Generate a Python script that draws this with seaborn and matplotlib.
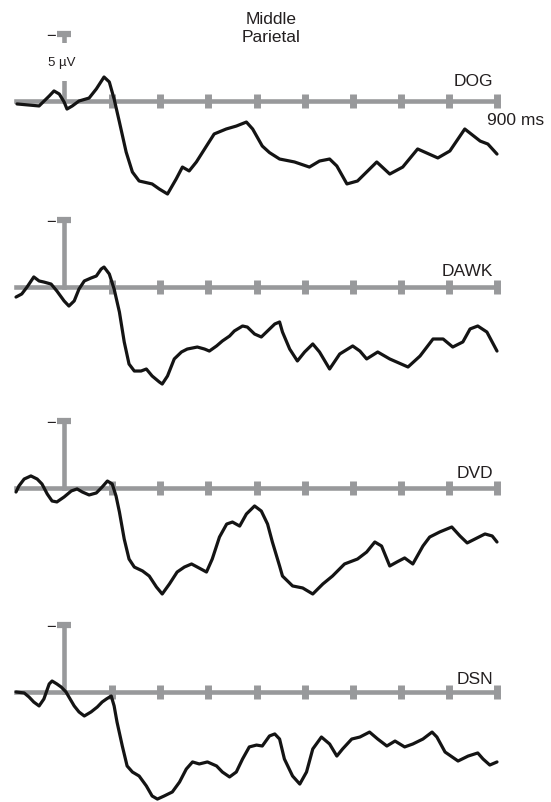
import matplotlib
matplotlib.use("Agg")
import matplotlib.pyplot as plt
import seaborn as sns

# ---------------- data (ms, µV; negative plotted up) ----------------
conditions = ["DOG", "DAWK", "DVD", "DSN"]

dog_ms = [-98, -52, -31, -21, -10, 0, 6, 17, 31, 52, 67, 83, 94, 104, 115, 129, 142, 156,
          183, 198, 215, 233, 246, 260, 275, 296, 312, 337, 358, 379, 392, 412, 427, 448,
          479, 510, 531, 552, 567, 588, 610, 650, 677, 704, 735, 777, 802, 833, 865, 881, 900]
dog_uv = [0.22, 0.37, -0.37, -0.75, -0.52, 0.07, 0.60, 0.37, 0.0, -0.22, -0.90, -1.79, -1.42,
          -0.15, 1.57, 3.81, 5.30, 5.97, 6.19, 6.57, 6.94, 5.82, 4.93, 5.22, 4.55, 3.36, 2.46,
          2.09, 1.87, 1.57, 2.09, 3.36, 3.85, 4.33, 4.55, 4.93, 4.48, 4.33, 4.85, 6.19, 5.97,
          4.55, 5.45, 4.93, 3.58, 4.25, 3.73, 2.09, 2.99, 3.21, 3.96]

dawk_ms = [-100, -88, -77, -63, -52, -42, -27, -15, 0, 10, 21, 31, 42, 56, 67, 77, 83, 94,
           104, 115, 125, 135, 146, 160, 171, 183, 198, 204, 215, 229, 244, 256, 277, 292,
           302, 317, 329, 344, 354, 371, 381, 396, 410, 423, 438, 448, 454, 469, 485, 500,
           517, 531, 552, 573, 600, 615, 629, 652, 677, 715, 740, 767, 788, 808, 829, 844,
           860, 879, 900]
dawk_uv = [0.75, 0.52, 0.0, -0.75, -0.45, -0.37, -0.22, 0.30, 1.04, 1.42, 1.04, 0.15, -0.45,
           -0.67, -0.82, -1.34, -1.49, -0.97, 0.15, 1.87, 4.10, 5.75, 6.27, 6.27, 6.12, 6.64,
           7.09, 7.24, 6.64, 5.37, 4.85, 4.63, 4.48, 4.63, 4.78, 4.40, 4.03, 3.66, 3.28, 2.91,
           2.99, 3.51, 3.73, 3.28, 2.76, 2.61, 3.36, 4.63, 5.52, 4.85, 4.25, 4.85, 6.12, 5.00,
           4.40, 4.78, 5.37, 4.85, 5.37, 5.97, 5.15, 3.88, 3.88, 4.48, 4.10, 3.13, 2.91, 3.36,
           4.78]

dvd_ms = [-100, -94, -83, -69, -56, -46, -35, -25, -15, 0, 15, 27, 38, 52, 67, 79, 90, 100,
          108, 115, 125, 135, 146, 163, 177, 192, 204, 219, 235, 250, 265, 277, 296, 308, 323,
          338, 350, 365, 379, 396, 410, 423, 433, 448, 454, 475, 496, 517, 538, 558, 583, 610,
          629, 646, 660, 677, 692, 708, 725, 746, 760, 781, 806, 823, 838, 854, 875, 890, 900]
dvd_uv = [0.30, -0.15, -0.67, -0.90, -0.67, -0.30, 0.45, 0.97, 1.04, 0.67, 0.22, 0.07, 0.30,
          0.52, 0.37, -0.07, -0.52, -0.30, 0.60, 1.79, 3.81, 5.30, 5.90, 6.19, 6.57, 7.39, 7.91,
          7.16, 6.27, 5.90, 5.67, 5.90, 6.27, 5.30, 3.66, 2.69, 2.54, 2.84, 1.94, 1.34, 1.72,
          2.69, 4.03, 5.82, 6.57, 7.31, 7.46, 7.91, 7.16, 6.57, 5.67, 5.30, 4.78, 4.03, 4.33,
          5.82, 5.52, 5.22, 5.67, 4.33, 3.66, 3.28, 2.91, 3.58, 4.10, 3.81, 3.43, 3.58, 4.03]

dsn_ms = [-100, -83, -73, -63, -52, -42, -31, -25, -15, -6, 4, 10, 21, 31, 42, 56, 69, 79, 88,
          98, 104, 110, 121, 131, 142, 156, 171, 183, 194, 208, 225, 240, 254, 267, 281, 298,
          317, 329, 344, 358, 371, 385, 400, 412, 427, 438, 448, 458, 475, 490, 504, 517, 535,
          552, 567, 579, 598, 615, 635, 652, 671, 688, 708, 725, 746, 765, 775, 792, 819, 840,
          860, 871, 885, 900]
dsn_uv = [0.0, 0.07, 0.37, 0.75, 1.04, 0.52, -0.60, -0.82, -0.60, -0.37, 0.0, 0.37, 1.04, 1.49,
          1.79, 1.49, 1.12, 0.75, 0.52, 0.30, 1.04, 2.24, 4.03, 5.52, 5.97, 6.27, 7.01, 7.76,
          7.99, 7.76, 7.46, 6.72, 5.75, 5.22, 5.37, 5.22, 5.52, 5.97, 6.34, 5.97, 5.00, 4.10,
          3.96, 4.03, 3.28, 3.13, 3.51, 5.00, 6.27, 6.87, 5.97, 4.25, 3.36, 3.88, 4.78, 4.25,
          3.51, 3.36, 2.99, 3.51, 4.03, 3.66, 4.10, 3.88, 3.51, 2.99, 3.36, 4.48, 5.15, 4.78,
          4.55, 5.00, 5.45, 5.22]

series_ms = [dog_ms, dawk_ms, dvd_ms, dsn_ms]
series_uv = [dog_uv, dawk_uv, dvd_uv, dsn_uv]

tick_ms = [100, 200, 300, 400, 500, 600, 700, 800, 900]
scale_uv = 5
title_lines = ["Middle", "Parietal"]
scale_label = "5 µV"
time_label = "900 ms"

# ---------------- style / layout ----------------
sns.set_style("white")
plt.rcParams["font.family"] = ["Liberation Sans", "DejaVu Sans"]

W, H = 551, 803
GRAY = "#98999b"
INK = "#231f20"
fig = plt.figure(figsize=(W / 100, H / 100), dpi=100)
fig.patch.set_facecolor("white")

baselines_px = [102, 288, 489, 693]
label_offsets = [-1.5, -1.23, -1.12, -1.04]
x0_px, x1_px = 16, 497
px_per_uv = 13.4
above_px, below_px = 80, 110

for i, (name, ms, uv) in enumerate(zip(conditions, series_ms, series_uv)):
    b = baselines_px[i]
    ax = fig.add_axes([x0_px / W, 1 - (b + below_px) / H,
                       (x1_px - x0_px) / W, (above_px + below_px) / H])
    ax.set_facecolor("none")
    ax.set_xlim(-100, 900)
    ax.set_ylim(below_px / px_per_uv, -above_px / px_per_uv)

    sns.lineplot(x=ms, y=uv, ax=ax, color="#141414", lw=2.3, zorder=5,
                 solid_joinstyle="round", solid_capstyle="round", clip_on=False)
    ax.set_xlabel("")
    ax.set_ylabel("")

    for s in ("top", "right"):
        ax.spines[s].set_visible(False)
    ax.spines["bottom"].set_position(("data", 0))
    ax.spines["left"].set_position(("data", 0))
    ax.spines["left"].set_bounds(-scale_uv, 0)
    for s in ("bottom", "left"):
        ax.spines[s].set_color(GRAY)
        ax.spines[s].set_linewidth(3.3)
        ax.spines[s].set_zorder(2)

    ax.set_xticks(tick_ms)
    ax.set_xticklabels([])
    ax.tick_params(axis="x", direction="inout", length=10, width=5, color=GRAY,
                   labelbottom=False, bottom=True)
    ax.set_yticks([-scale_uv])
    ax.set_yticklabels(["−"])
    ax.tick_params(axis="y", direction="inout", length=10, width=4.5, color=GRAY,
                   left=True, pad=1, labelsize=12, labelcolor=INK)

    ax.text(892, label_offsets[i], name, ha="right", va="center", fontsize=12.5, color=INK)

    if i == 0:
        ax.text(-4, -2.9, scale_label, ha="center", va="center", fontsize=9.5, color=INK,
                zorder=4, bbox=dict(boxstyle="square,pad=1.0", fc="white", ec="none"))
        ax.text(880, 1.35, time_label, ha="left", va="center", fontsize=12.5, color=INK,
                clip_on=False)

fig.text(271 / W, 1 - 28.5 / H, "\n".join(title_lines), ha="center", va="center",
         fontsize=12.5, color=INK, linespacing=1.25)

fig.savefig("out.png", dpi=100, facecolor="white")
